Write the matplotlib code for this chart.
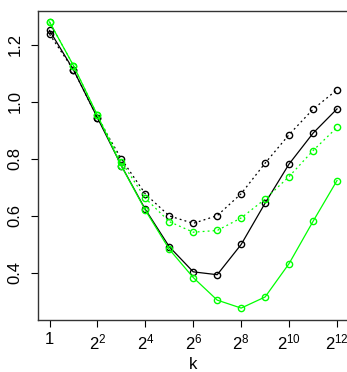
import numpy as np
import matplotlib
matplotlib.use("Agg")
import matplotlib.pyplot as plt

plt.rcParams['font.family'] = ['Liberation Sans', 'DejaVu Sans']
plt.rcParams['mathtext.fontset'] = 'custom'
plt.rcParams['mathtext.rm'] = 'Liberation Sans'
plt.rcParams['mathtext.it'] = 'Liberation Sans'

# k = 2^0 ... 2^12
k = [2 ** i for i in range(13)]
black_dotted = [1.237, 1.112, 0.944, 0.800, 0.677, 0.600, 0.574, 0.601, 0.678, 0.785, 0.885, 0.974, 1.042]
black_solid = [1.250, 1.112, 0.944, 0.776, 0.623, 0.492, 0.404, 0.394, 0.500, 0.645, 0.782, 0.890, 0.975]
green_dotted = [1.280, 1.127, 0.953, 0.790, 0.662, 0.580, 0.543, 0.549, 0.593, 0.659, 0.738, 0.829, 0.910]
green_solid = [1.280, 1.127, 0.953, 0.775, 0.620, 0.483, 0.384, 0.305, 0.277, 0.316, 0.433, 0.581, 0.724]

xtick_vals = [1, 4, 16, 64, 256, 1024, 4096]
xtick_labels = ['1', '$2^{2}$', '$2^{4}$', '$2^{6}$', '$2^{8}$', '$2^{10}$', '$2^{12}$']
ytick_vals = [0.4, 0.6, 0.8, 1.0, 1.2]

fig = plt.figure(figsize=(3.47, 3.72), dpi=100)
ax = fig.add_axes([38 / 347, 1 - 319.5 / 372, 310.5 / 347, 309 / 372])

green = '#00ff00'
mk = dict(marker='o', markersize=4.5, markerfacecolor='none', markeredgewidth=1.0, linewidth=0.9)
ax.plot(k, black_dotted, color='black', linestyle=(0, (1.5, 2.5)), **mk)
ax.plot(k, black_solid, color='black', linestyle='-', **mk)
ax.plot(k, green_dotted, color=green, linestyle=(0, (1.5, 2.5)), **mk)
ax.plot(k, green_solid, color=green, linestyle='-', **mk)

ax.set_xscale('log', base=2)
ax.set_xlim(2 ** -0.48, 2 ** 12.48)
ax.set_ylim(0.237, 1.32)
ax.set_xticks(xtick_vals)
ax.set_xticklabels(xtick_labels)
ax.minorticks_off()
ax.set_yticks(ytick_vals)
ax.set_yticklabels(['0.4', '0.6', '0.8', '1.0', '1.2'], rotation=90, va='center')
ax.tick_params(axis='both', length=5, width=0.8, labelsize=12)
ax.tick_params(axis='y', pad=6)
ax.tick_params(axis='x', pad=4)
for s in ax.spines.values():
    s.set_linewidth(1.0)
    s.set_color('#333333')

ax.set_xlabel('k', fontsize=12, labelpad=4)

fig.savefig('out.png', dpi=100)
